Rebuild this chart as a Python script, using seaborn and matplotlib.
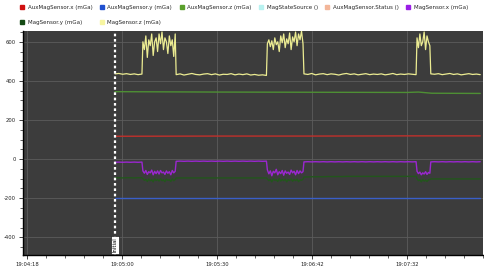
import numpy as np
import pandas as pd
import matplotlib
matplotlib.use("Agg")
import matplotlib.pyplot as plt
from matplotlib.lines import Line2D
from matplotlib.ticker import MultipleLocator
import seaborn as sns

# ---------------- data ----------------
x_tick_pos = [0, 100, 200, 300, 400]
x_tick_labels = ["19:04:18", "19:05:00", "19:05:30", "19:06:42", "19:07:32"]
y_ticks = [-400, -200, 0, 200, 400, 600]

marker_time = 92.6
marker_label = "Initial"

# segment boundaries (time units)
seg_bounds = [(92.6, 121.0), (122.0, 156.0), (157.0, 252.0), (253.0, 290.5),
              (291.5, 409.5), (410.5, 424.0), (425.0, 477.0)]

# MagSensor.z (yellow) per segment
magz_segs = [
    [436, 438, 434, 437, 433, 436, 432, 435],
    [600, 560, 630, 520, 610, 580, 640, 530, 600, 620, 550, 640, 590, 650, 560,
     620, 600, 540, 630, 580, 610, 525, 640],
    [432, 436, 430, 434, 438, 433, 431, 435, 437, 432, 436, 430, 434, 433, 437,
     431, 435, 432, 436, 430, 433, 429, 431, 428],
    [590, 610, 575, 605, 560, 620, 585, 600, 550, 630, 595, 640, 570, 615, 590,
     645, 560, 625, 600, 650, 580, 640, 610, 655, 590],
    [436, 433, 438, 431, 435, 437, 432, 436, 434, 430, 435, 438, 433, 436, 431,
     434, 437, 432, 435, 433, 436, 431, 434, 438, 432, 435, 433, 436, 434, 432],
    [620, 570, 640, 580, 600, 650, 560, 630, 600, 580],
    [436, 434, 437, 432, 435, 438, 433, 436, 431, 434, 437, 433, 435, 432],
]

# MagSensor.x (purple) per segment
magx_segs = [
    [-16, -15, -16, -15, -16, -15, -16, -15],
    [-60, -72, -58, -78, -64, -70, -56, -80, -62, -74, -60, -76, -58, -70, -66,
     -78, -60, -72, -64, -80, -58, -70, -62],
    [-11, -10, -11, -10, -11, -10, -11, -10, -11, -10, -11, -10, -11, -10, -11,
     -10, -11, -10, -11, -10, -11, -10, -11, -10],
    [-55, -75, -60, -85, -62, -70, -52, -80, -64, -74, -58, -82, -60, -72, -66,
     -78, -56, -70, -62, -80, -58, -74, -60, -70, -64],
    [-14, -13, -14, -13, -14, -13, -14, -13, -14, -13, -14, -13, -14, -13, -14,
     -13, -14, -13, -14, -13, -14, -13, -14, -13, -14, -13, -14, -13, -14, -13],
    [-62, -74, -66, -80, -70, -76, -64, -78, -68, -72],
    [-14, -13, -14, -13, -14, -13, -14, -13, -14, -13, -14, -13, -14, -13],
]

# MagSensor.y (dark green) per segment
magy_segs = [
    [-95, -95, -96, -95, -95, -96, -95, -95],
    [-100, -108, -104, -114, -102, -110, -106, -116, -101, -109, -104, -112,
     -100, -110, -106, -115, -102, -108, -105, -114, -101, -110, -104],
    [-96, -96, -96, -96, -96, -96, -96, -96, -96, -96, -96, -96, -96, -96, -96,
     -96, -96, -96, -96, -96, -96, -96, -96, -96],
    [-102, -110, -104, -116, -101, -108, -106, -114, -100, -112, -104, -110,
     -102, -116, -105, -109, -101, -113, -104, -110, -102, -115, -106, -108, -103],
    [-91, -91, -90, -90, -90, -90, -89, -89, -89, -89, -89, -88, -88, -88, -88,
     -88, -88, -88, -88, -88, -88, -88, -88, -88, -88, -88, -88, -88, -88, -88],
    [-100, -110, -106, -116, -104, -112, -108, -114, -106, -104],
    [-101, -101, -101, -101, -101, -101, -101, -101, -101, -101, -101, -101, -101, -101],
]

auxz_time = [92.6, 200, 300, 400, 412, 426, 477]
auxz_vals = [345, 343, 342, 341, 343, 337, 336]
auxx_time = [92.6, 200, 300, 400, 477]
auxx_vals = [117, 118, 118, 119, 119]
auxy_time = [92.6, 200, 300, 400, 477]
auxy_vals = [-200, -200, -200, -200, -200]

legend_names = ["AuxMagSensor.x (mGa)", "AuxMagSensor.y (mGa)", "AuxMagSensor.z (mGa)",
                "MagStateSource ()", "AuxMagSensor.Status ()", "MagSensor.x (mGa)",
                "MagSensor.y (mGa)", "MagSensor.z (mGa)"]
legend_colors = ["#d01010", "#2050d0", "#5aa02c", "#b8f2f0", "#f3b699", "#9a1ee6",
                 "#144a14", "#f7f5a0"]


def seg_series(segs):
    ts, vs = [], []
    for (a, b), vals in zip(seg_bounds, segs):
        ts.extend(np.linspace(a, b, len(vals)))
        vs.extend(vals)
    return ts, vs


# ---------------- plot ----------------
sns.set_theme(style="dark")
plt.rcParams['font.family'] = ['DejaVu Sans']

fig = plt.figure(figsize=(4.85, 2.77), dpi=100)
fig.patch.set_facecolor("white")
ax = fig.add_axes([0.0474, 0.0794, 0.9486, 0.8086])
ax.set_facecolor("#3c3c3c")

line_colors = {
    "auxx": "#c0302b", "auxy": "#3a5fc8", "auxz": "#4e8f34",
    "magx": "#9b27d0", "magy": "#22561c", "magz": "#ecec92",
}

sns.lineplot(x=auxz_time, y=auxz_vals, ax=ax, color=line_colors["auxz"], linewidth=1.0,
             estimator=None, sort=False)
sns.lineplot(x=auxx_time, y=auxx_vals, ax=ax, color=line_colors["auxx"], linewidth=1.0,
             estimator=None, sort=False)
sns.lineplot(x=auxy_time, y=auxy_vals, ax=ax, color=line_colors["auxy"], linewidth=1.0,
             estimator=None, sort=False)
t, v = seg_series(magy_segs)
sns.lineplot(x=t, y=v, ax=ax, color=line_colors["magy"], linewidth=1.0,
             estimator=None, sort=False)
t, v = seg_series(magx_segs)
sns.lineplot(x=t, y=v, ax=ax, color=line_colors["magx"], linewidth=1.0,
             estimator=None, sort=False)
t, v = seg_series(magz_segs)
sns.lineplot(x=t, y=v, ax=ax, color=line_colors["magz"], linewidth=0.9,
             estimator=None, sort=False)

# event marker
ax.axvline(marker_time, color="white", linestyle=(0, (1.2, 1.2)), linewidth=1.6)
ax.text(marker_time, -400, marker_label, rotation=90, fontsize=3.8, color="black",
        ha="center", va="top",
        bbox=dict(boxstyle="square,pad=0.3", facecolor="white", edgecolor="black",
                  linewidth=0.4))

ax.set_xlim(-4.2, 480)
ax.set_ylim(-490, 655)
ax.set_xticks(x_tick_pos)
ax.set_xticklabels(x_tick_labels)
ax.xaxis.set_minor_locator(MultipleLocator(20))
ax.set_yticks(y_ticks)
ax.set_yticklabels([str(y) for y in y_ticks])
ax.yaxis.set_minor_locator(MultipleLocator(50))

ax.grid(False, which="minor")
ax.grid(True, which="major", color="#5c5c5c", linewidth=0.6)
ax.set_axisbelow(True)

ax.tick_params(axis="both", which="major", labelsize=3.8, colors="#222222",
               length=3, width=0.6, direction="out", pad=2, bottom=True, left=True)
ax.tick_params(axis="both", which="minor", length=2, width=0.5, colors="#222222",
               direction="out", bottom=True, left=True)

for side in ["left", "bottom"]:
    ax.spines[side].set_visible(True)
    ax.spines[side].set_color("black")
    ax.spines[side].set_linewidth(1.0)
for side in ["top", "right"]:
    ax.spines[side].set_visible(False)
ax.set_xlabel("")
ax.set_ylabel("")

# legend (row-major order)
handles = [Line2D([], [], linestyle="none", marker="s", markersize=3.2,
                  markerfacecolor=c, markeredgecolor=c) for c in legend_colors]
order = [0, 6, 1, 7, 2, 3, 4, 5]
fig.legend([handles[i] for i in order], [legend_names[i] for i in order],
           ncol=6, loc="upper left", bbox_to_anchor=(0.041, 0.982),
           frameon=False, fontsize=4, handlelength=0.8, handletextpad=0.6,
           columnspacing=1.3, labelspacing=1.75, borderaxespad=0, borderpad=0)

fig.savefig("out.png", dpi=100, facecolor="white")
